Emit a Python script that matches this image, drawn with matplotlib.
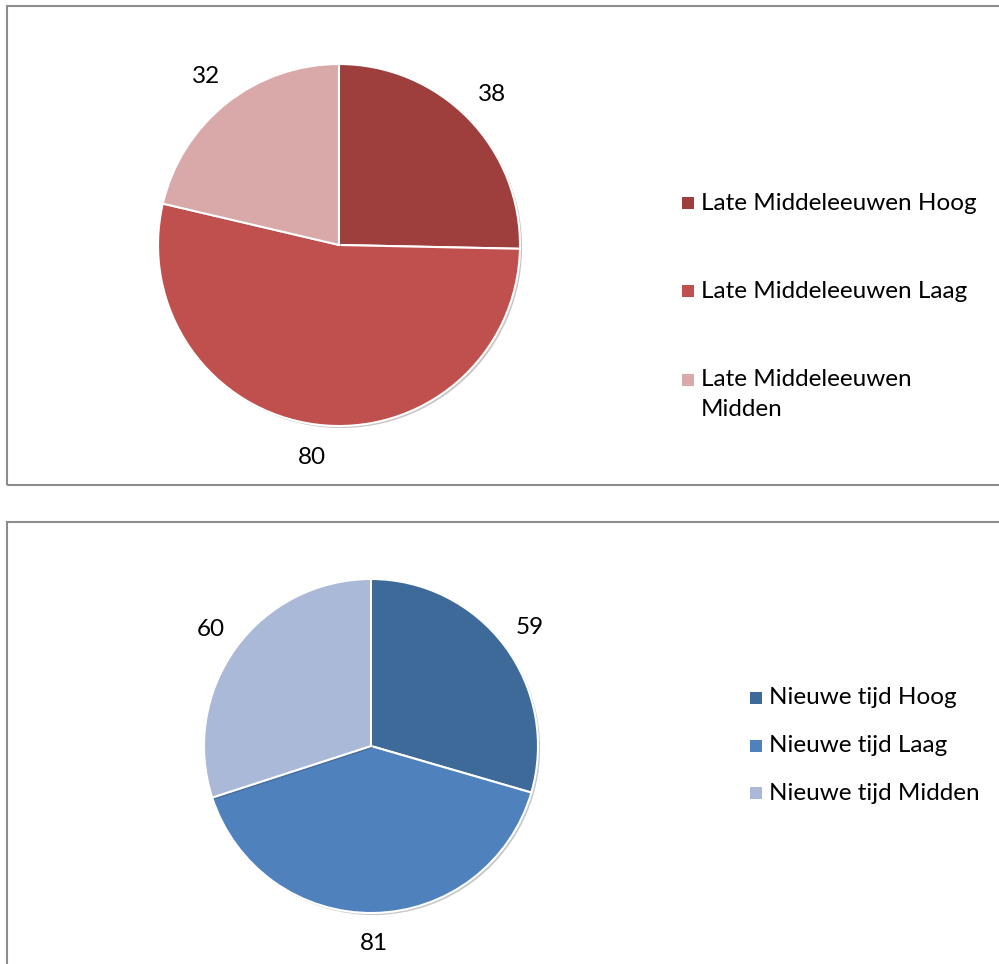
import matplotlib
matplotlib.use("Agg")
import matplotlib.pyplot as plt
from matplotlib.patches import Rectangle
import matplotlib.patheffects as pe

plt.rcParams['font.family'] = ['Lato', 'DejaVu Sans']

W, H = 999, 964
DPI = 100

top_labels = ["Late Middeleeuwen Hoog", "Late Middeleeuwen Laag", "Late Middeleeuwen\nMidden"]
top_values = [38, 80, 32]
top_colors = ["#9E3F3E", "#C0504D", "#D9A9A9"]

bot_labels = ["Nieuwe tijd Hoog", "Nieuwe tijd Laag", "Nieuwe tijd Midden"]
bot_values = [59, 81, 60]
bot_colors = ["#3E6A9A", "#4F81BD", "#AAB9D7"]

fig = plt.figure(figsize=(W / DPI, H / DPI), dpi=DPI)
fig.patch.set_facecolor("white")

def px(x, y):
    return x / W, 1 - y / H

# panel borders
def panel(x0, y0, x1, y1):
    fx0, fy1 = px(x0, y0)
    fx1, fy0 = px(x1, y1)
    fig.patches.append(Rectangle((fx0, fy0), fx1 - fx0, fy1 - fy0, transform=fig.transFigure,
                                 fill=False, edgecolor="#8C8C8C", linewidth=1.5, zorder=0))

panel(7, 6, 1010, 485)
panel(7, 522, 1010, 980)

FS = 17.5

def draw_pie(cx, cy, r, values, colors, labels, leg_x, leg_ys):
    fx, fy = px(cx - r, cy + r)
    ax = fig.add_axes([fx, fy, 2 * r / W, 2 * r / H])
    wedges, texts = ax.pie(values, colors=colors, startangle=90, counterclock=False,
                           labels=[str(v) for v in values], labeldistance=1.185,
                           textprops=dict(fontsize=FS, color="black"),
                           wedgeprops=dict(edgecolor="white", linewidth=1.5))
    for w in wedges:
        w.set_path_effects([pe.SimplePatchShadow(offset=(1.5, -1.5), alpha=0.25), pe.Normal()])
    for t in texts:
        t.set_ha("center")
        t.set_va("center")
    ax.set_xlim(-1, 1)
    ax.set_ylim(-1, 1)
    ax.set_aspect("equal")
    ax.axis("off")
    # legend
    for lab, col, ly in zip(labels, colors, leg_ys):
        sx, sy = px(leg_x, ly + 6)
        fig.patches.append(Rectangle((sx, sy), 12 / W, 12 / H, transform=fig.transFigure,
                                     facecolor=col, edgecolor="none"))
        tx, ty = px(leg_x + 19, ly)
        fig.text(tx, ty, lab.split("\n")[0], fontsize=FS, va="center", ha="left")
        if "\n" in lab:
            tx2, ty2 = px(leg_x + 19, ly + 30)
            fig.text(tx2, ty2, lab.split("\n")[1], fontsize=FS, va="center", ha="left")

draw_pie(339, 245, 181, top_values, top_colors, top_labels, 682, [203, 291, 380])
draw_pie(371, 746, 167, bot_values, bot_colors, bot_labels, 750, [698, 746, 793])

fig.savefig("out.png", dpi=DPI)
